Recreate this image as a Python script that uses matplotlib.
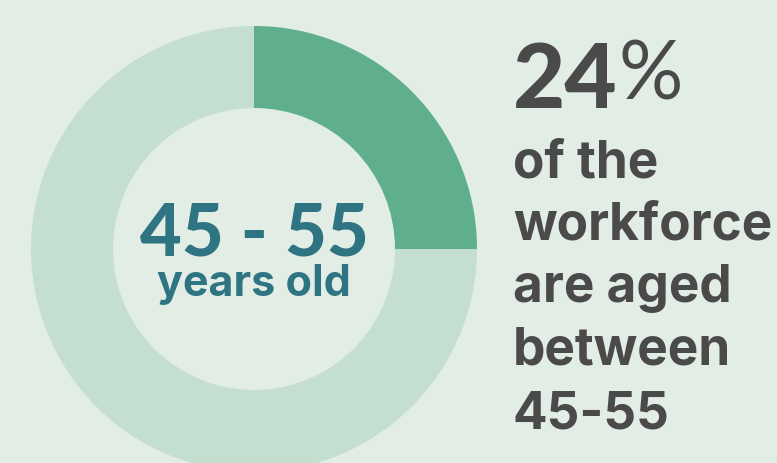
import matplotlib
matplotlib.use("Agg")
import matplotlib.pyplot as plt

# ---- data ----
segments = ["Aged 45-55", "Other ages"]
shares = [25, 75]          # drawn share of the ring
headline_value = "24"
headline_unit = "%"
center_title = "45 - 55"
center_sub = "years old"
body_lines = ["of the", "workforce", "are aged", "between", "45-55"]

# ---- style ----
BG = "#E2EDE5"
DARK = "#5FAE8C"
LIGHT = "#C4DED0"
TEAL = "#2E7482"
GREY = "#4A4A4A"
FONT = ["Lato", "DejaVu Sans"]
FONT2 = ["Inter", "DejaVu Sans"]

W, H = 777, 464
fig = plt.figure(figsize=(W / 100, H / 100), dpi=100, facecolor=BG)
ax = fig.add_axes([0, 0, 1, 1])
ax.set_facecolor(BG)

cx, cy, R, r = 254, H - 250, 223, 141
ax.pie(shares, colors=[DARK, LIGHT], startangle=90, counterclock=False,
       center=(cx, cy), radius=R, wedgeprops=dict(width=R - r, linewidth=0),
       frame=True)
ax.set_xlim(0, W)
ax.set_ylim(0, H)
ax.set_aspect("equal")
ax.axis("off")

ax.text(cx, H - 256, center_title, ha="center", va="baseline", color=TEAL,
        fontsize=52, fontweight="black", family=FONT)
ax.text(cx, H - 296, center_sub, ha="center", va="baseline", color=TEAL,
        fontsize=31, fontweight="bold", family=FONT2)

x0 = 513
t = ax.text(x0, H - 108, headline_value, ha="left", va="baseline", color=GREY,
            fontsize=65, fontweight="black", family=FONT)
fig.canvas.draw()
bb = t.get_window_extent(fig.canvas.get_renderer())
ax.text(bb.x1 + 1, H - 99, headline_unit, ha="left", va="baseline", color=GREY,
        fontsize=58, fontweight="normal", family=FONT)

baselines = [178, 240, 302, 365, 429]
for line, b in zip(body_lines, baselines):
    ax.text(x0, H - b, line, ha="left", va="baseline", color=GREY,
            fontsize=37, fontweight="bold", family=FONT2)

fig.savefig("out.png", dpi=100, facecolor=BG)
